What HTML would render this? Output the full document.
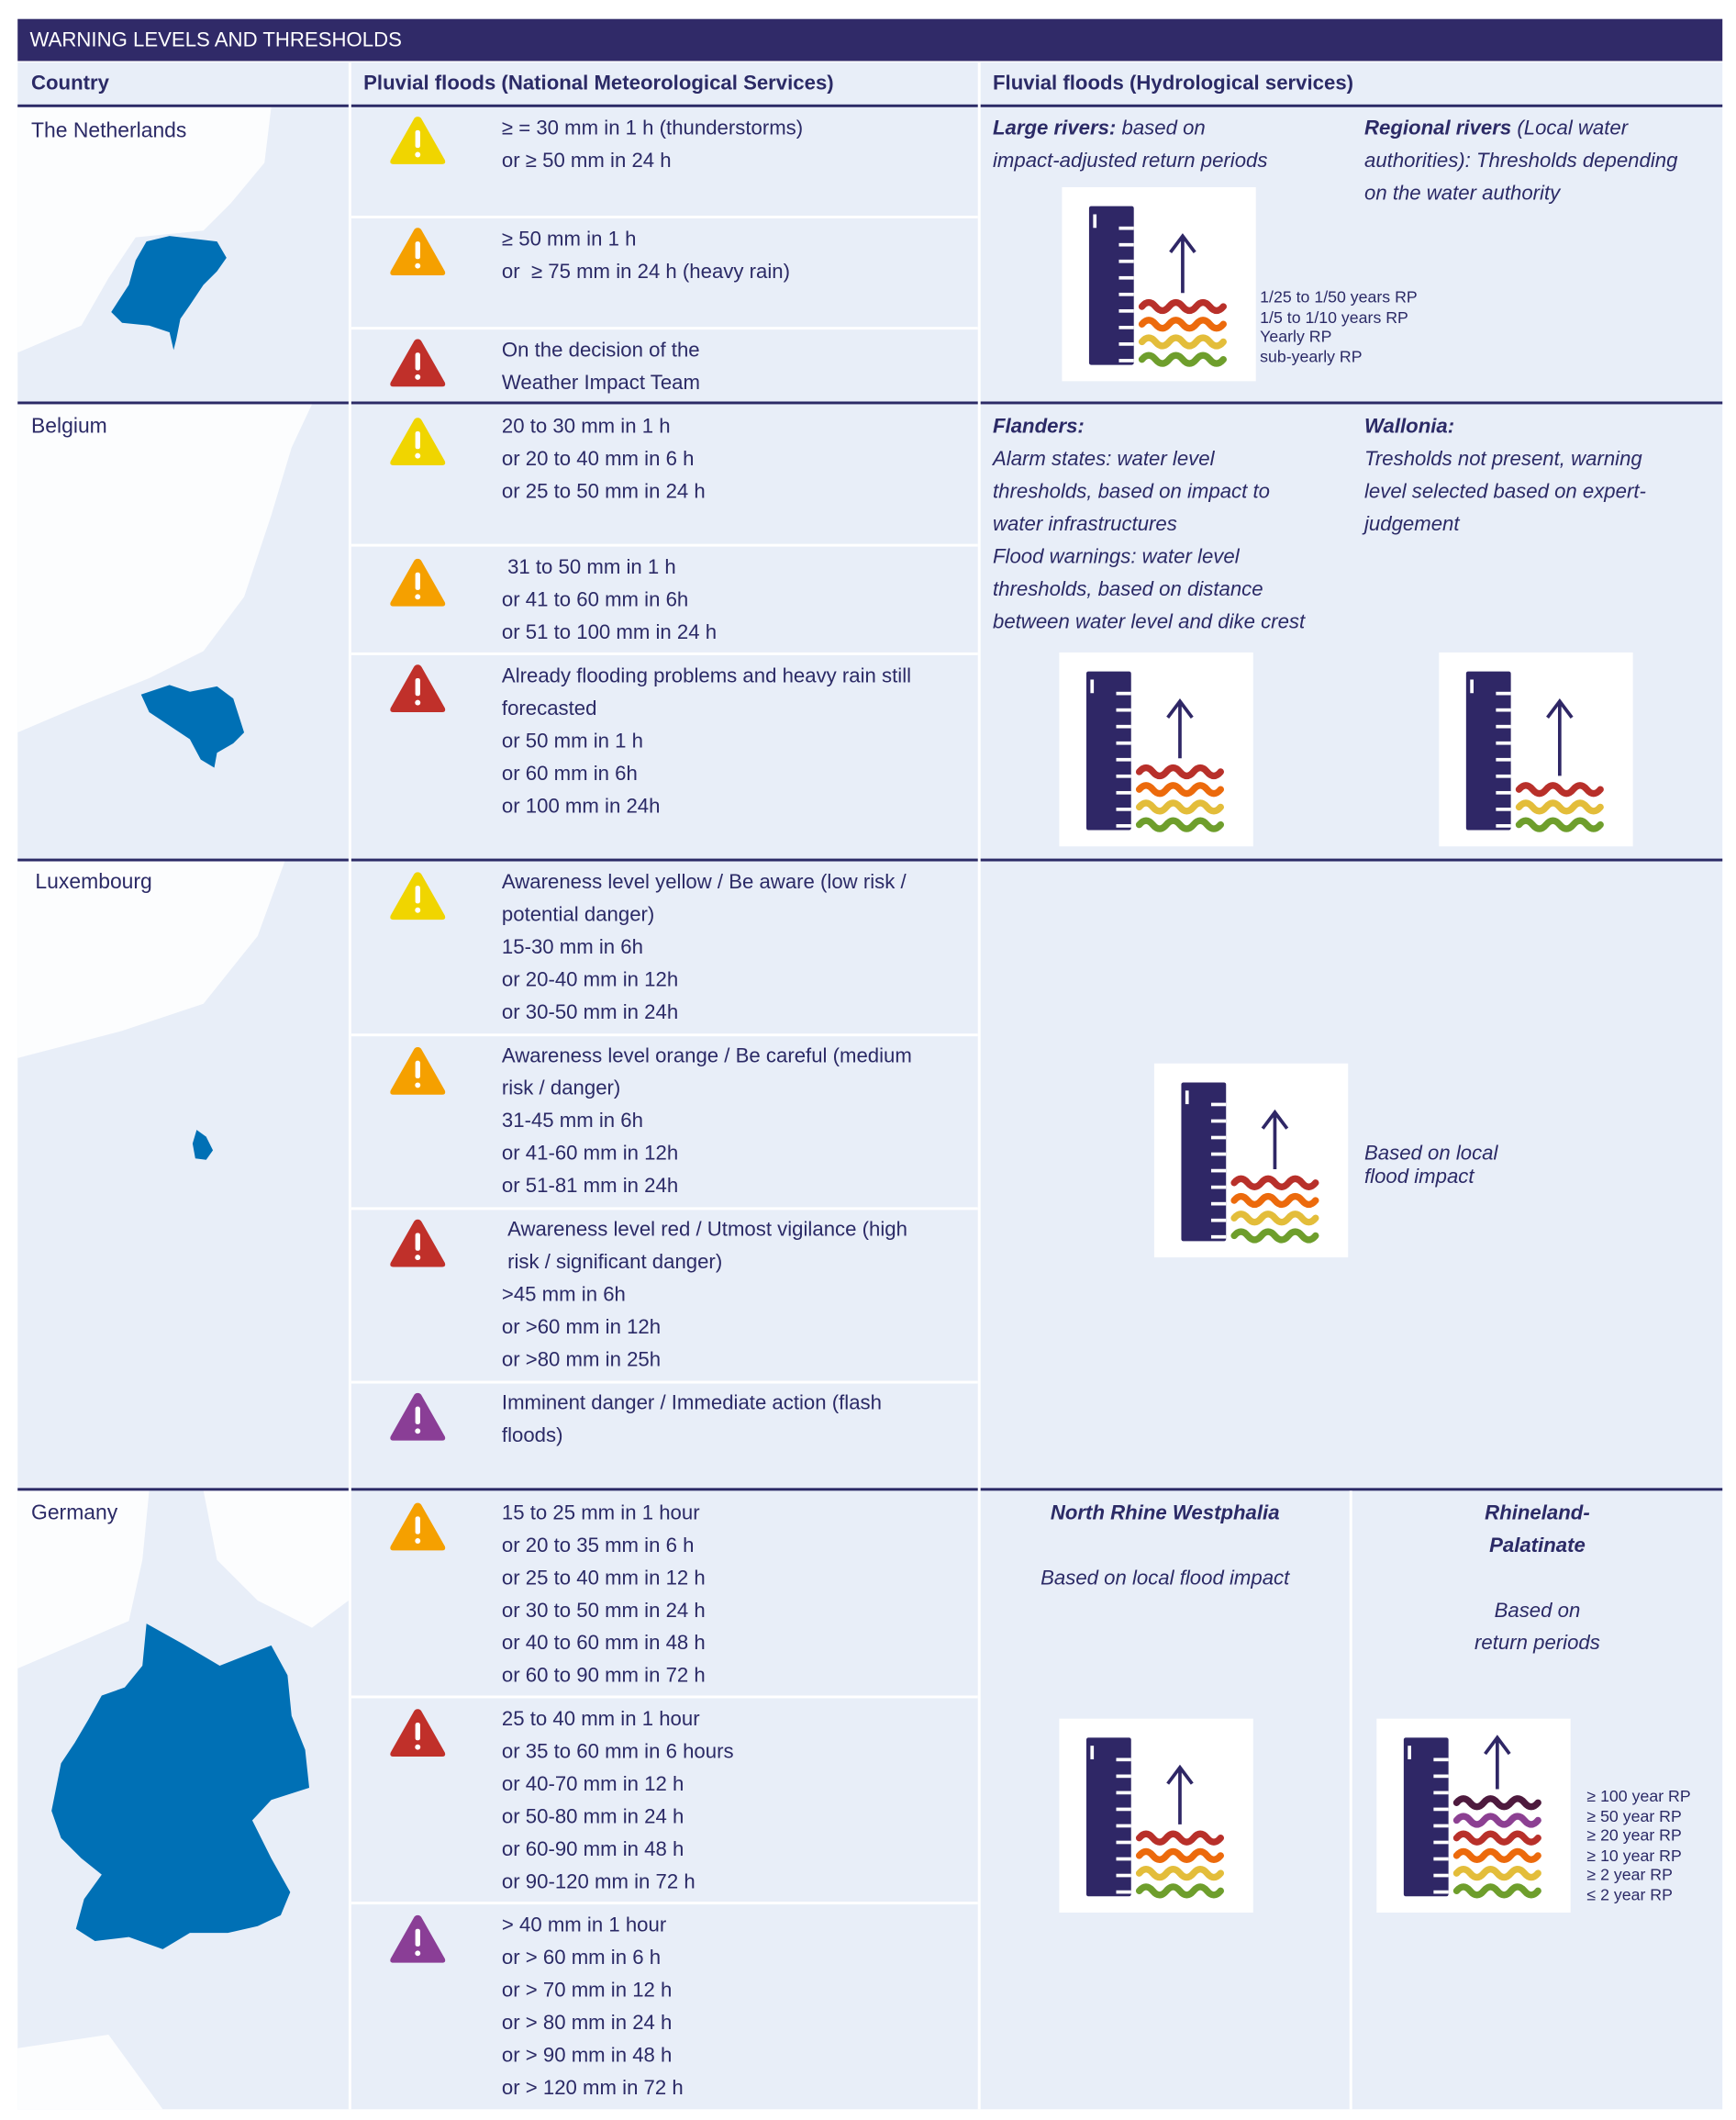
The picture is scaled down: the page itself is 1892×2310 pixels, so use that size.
<!DOCTYPE html>
<html><head><meta charset="utf-8"><style>
html,body{margin:0;padding:0;background:#fff;width:1892px;height:2310px;overflow:hidden}
#s{position:absolute;left:0;top:0;width:1280px;height:1563px;transform:scale(1.478125,1.478);transform-origin:0 0;font-family:"Liberation Sans",sans-serif;color:#2b2a66}
.a{position:absolute}
.t{position:absolute;font-size:15px;line-height:24px;white-space:nowrap}
.i{font-style:italic}
.b{font-weight:bold}
.sm{position:absolute;font-size:12px;line-height:14.6px;white-space:nowrap}
.hl{position:absolute;height:2px;background:#2b2a66;left:13px;width:1257px}
.wl{position:absolute;height:2px;background:#fff}
.vl{position:absolute;width:2px;background:#fff}
</style></head><body>
<div id="s">
<div class="a" style="left:13px;top:14px;width:1257px;height:31px;background:#302a68"></div>
<div class="t" style="left:22px;top:18px;color:#fff;font-size:15px">WARNING LEVELS AND THRESHOLDS</div>
<div class="a" style="left:13px;top:46px;width:1257px;height:1509px;background:#e8eef8"></div>
<svg class="a" style="left:0;top:0" width="1280" height="1563" id="g"></svg>
<div class="t b" style="left:23px;top:50px">Country</div>
<div class="t b" style="left:268px;top:50px">Pluvial floods (National Meteorological Services)</div>
<div class="t b" style="left:732px;top:50px">Fluvial floods (Hydrological services)</div>
<div class="hl" style="top:77px"></div>
<div class="hl" style="top:296px"></div>
<div class="hl" style="top:633px"></div>
<div class="hl" style="top:1097px"></div>
<div class="vl" style="left:257px;top:46px;height:1509px"></div>
<div class="vl" style="left:721px;top:46px;height:1509px"></div>
<div class="vl" style="left:995px;top:1099px;height:456px"></div>
<div class="wl" style="left:259px;width:462px;top:159px"></div>
<div class="wl" style="left:259px;width:462px;top:241px"></div>
<div class="wl" style="left:259px;width:462px;top:401px"></div>
<div class="wl" style="left:259px;width:462px;top:481px"></div>
<div class="wl" style="left:259px;width:462px;top:762px"></div>
<div class="wl" style="left:259px;width:462px;top:890px"></div>
<div class="wl" style="left:259px;width:462px;top:1018px"></div>
<div class="wl" style="left:259px;width:462px;top:1250px"></div>
<div class="wl" style="left:259px;width:462px;top:1402px"></div>

<div class="t" style="left:23px;top:85px;font-size:15.5px">The Netherlands</div>
<div class="t" style="left:23px;top:303px;font-size:15.5px">Belgium</div>
<div class="t" style="left:26px;top:639px;font-size:15.5px">Luxembourg</div>
<div class="t" style="left:23px;top:1104px;font-size:15.5px">Germany</div>

<div class="t" style="left:370px;top:83px">≥ = 30 mm in 1 h (thunderstorms)<br>or ≥ 50 mm in 24 h</div>
<div class="t" style="left:370px;top:165px">≥ 50 mm in 1 h<br>or &nbsp;≥ 75 mm in 24 h (heavy rain)</div>
<div class="t" style="left:370px;top:247px">On the decision of the<br>Weather Impact Team</div>
<div class="t i" style="left:732px;top:83px"><b>Large rivers:</b> based on<br>impact-adjusted return periods</div>
<div class="t i" style="left:1006px;top:83px"><b>Regional rivers</b> (Local water<br>authorities): Thresholds depending<br>on the water authority</div>
<div class="sm" style="left:929px;top:212px">1/25 to 1/50 years RP<br>1/5 to 1/10 years RP<br>Yearly RP<br>sub-yearly RP</div>

<div class="t" style="left:370px;top:303px">20 to 30 mm in 1 h<br>or 20 to 40 mm in 6 h<br>or 25 to 50 mm in 24 h</div>
<div class="t" style="left:370px;top:407px">&nbsp;31 to 50 mm in 1 h<br>or 41 to 60 mm in 6h<br>or 51 to 100 mm in 24 h</div>
<div class="t" style="left:370px;top:487px">Already flooding problems and heavy rain still<br>forecasted<br>or 50 mm in 1 h<br>or 60 mm in 6h<br>or 100 mm in 24h</div>
<div class="t i" style="left:732px;top:303px"><b>Flanders:</b><br>Alarm states: water level<br>thresholds, based on impact to<br>water infrastructures<br>Flood warnings: water level<br>thresholds, based on distance<br>between water level and dike crest</div>
<div class="t i" style="left:1006px;top:303px"><b>Wallonia:</b><br>Tresholds not present, warning<br>level selected based on expert-<br>judgement</div>

<div class="t" style="left:370px;top:639px">Awareness level yellow / Be aware (low risk /<br>potential danger)<br>15-30 mm in 6h<br>or 20-40 mm in 12h<br>or 30-50 mm in 24h</div>
<div class="t" style="left:370px;top:767px">Awareness level orange / Be careful (medium<br>risk / danger)<br>31-45 mm in 6h<br>or 41-60 mm in 12h<br>or 51-81 mm in 24h</div>
<div class="t" style="left:370px;top:895px">&nbsp;Awareness level red / Utmost vigilance (high<br>&nbsp;risk / significant danger)<br>&gt;45 mm in 6h<br>or &gt;60 mm in 12h<br>or &gt;80 mm in 25h</div>
<div class="t" style="left:370px;top:1023px">Imminent danger / Immediate action (flash<br>floods)</div>
<div class="t i" style="left:1006px;top:842px;line-height:17px">Based on local<br>flood impact</div>

<div class="t" style="left:370px;top:1104px">15 to 25 mm in 1 hour<br>or 20 to 35 mm in 6 h<br>or 25 to 40 mm in 12 h<br>or 30 to 50 mm in 24 h<br>or 40 to 60 mm in 48 h<br>or 60 to 90 mm in 72 h</div>
<div class="t" style="left:370px;top:1256px">25 to 40 mm in 1 hour<br>or 35 to 60 mm in 6 hours<br>or 40-70 mm in 12 h<br>or 50-80 mm in 24 h<br>or 60-90 mm in 48 h<br>or 90-120 mm in 72 h</div>
<div class="t" style="left:370px;top:1408px">&gt; 40 mm in 1 hour<br>or &gt; 60 mm in 6 h<br>or &gt; 70 mm in 12 h<br>or &gt; 80 mm in 24 h<br>or &gt; 90 mm in 48 h<br>or &gt; 120 mm in 72 h</div>
<div class="t i" style="left:723px;width:272px;text-align:center;top:1104px"><b>North Rhine Westphalia</b><br><br>Based on local flood impact</div>
<div class="t i" style="left:997px;width:273px;text-align:center;top:1104px"><b>Rhineland-<br>Palatinate</b><br><br>Based on<br>return periods</div>
<div class="sm" style="left:1170px;top:1317px">≥ 100 year RP<br>≥ 50 year RP<br>≥ 20 year RP<br>≥ 10 year RP<br>≥ 2 year RP<br>≤ 2 year RP</div>
</div>
<script>
const iconKinds=['y','o','r','y','o','r','y','o','r','p','o','r','p'];
const iconY=[104,186,268,326,430,508,661,790,917,1045,1126,1278,1430];
const gauges=[[783,138,4],[781,481,4],[1061,481,3],[851,784,4],[781,1267,4],[1015,1267,6]];
const g=document.getElementById('g');
const NS='http://www.w3.org/2000/svg';
function el(t,a,p){const e=document.createElementNS(NS,t);for(const k in a)e.setAttribute(k,a[k]);(p||g).appendChild(e);return e;}
// map backgrounds: sea in white
const seas=[
"13,79 200,79 195,120 170,150 150,170 100,175 80,205 60,240 13,260",
"13,298 230,298 215,330 200,380 180,440 150,480 110,500 60,520 13,540",
"13,635 210,635 190,690 150,740 90,760 13,780",
"13,1099 110,1099 105,1150 95,1195 60,1210 13,1230",
"150,1099 257,1099 257,1180 230,1200 190,1180 160,1150",
"13,1510 80,1500 120,1555 13,1555"];
seas.forEach(p=>{const e=el('polygon',{points:p,fill:'#fff',opacity:0.85});});
const countries=[
"108,178 125,174 160,178 167,190 160,200 150,210 140,225 133,235 130,250 128,258 125,245 110,240 90,238 82,230 95,210 100,192",
"104,512 125,505 140,510 160,506 172,515 180,540 172,548 160,555 158,566 148,560 140,545 125,535 110,525",
"145,833 152,838 157,848 152,855 144,854 142,843",
"108,1197 135,1212 162,1228 200,1213 212,1235 215,1265 225,1290 228,1318 200,1327 186,1342 200,1370 214,1395 207,1412 190,1420 168,1425 140,1425 120,1437 95,1428 70,1431 56,1422 62,1400 75,1382 60,1370 45,1355 38,1335 45,1300 55,1285 65,1268 75,1250 92,1244 105,1228"];
countries.forEach(p=>{const e=el('polygon',{points:p,fill:'#0070b5'});});
const col={y:'#f0d500',o:'#f5a000',r:'#c0302a',p:'#8a3e96'};
iconKinds.forEach((k,i)=>{const cx=308,cy=iconY[i];
 const e=el('path',{d:`M${cx} ${cy-18} Q${cx+2} ${cy-18} ${cx+3} ${cy-16} L${cx+20} ${cy+14} Q${cx+21} ${cy+17} ${cx+18} ${cy+17} L${cx-18} ${cy+17} Q${cx-21} ${cy+17} ${cx-20} ${cy+14} L${cx-3} ${cy-16} Q${cx-2} ${cy-18} ${cx} ${cy-18}Z`,fill:col[k]});
 
 
 el('rect',{x:cx-1.8,y:cy-8,width:3.6,height:13,rx:1.5,fill:'#fff'});
 el('circle',{cx:cx,cy:cy+10,r:2,fill:'#fff'});
});
const wc={3:['#b8302a','#e3bd3a','#6e9e2c'],4:['#b8302a','#ec6a0c','#e3bd3a','#6e9e2c'],6:['#4e1a3e','#8c4092','#b8302a','#ec6a0c','#e3bd3a','#6e9e2c']};
gauges.forEach(([x,y,n])=>{
 const gr=el('g',{});
 
 
 el('rect',{x:x,y:y,width:143,height:143,fill:'#fff'},gr);
 el('rect',{x:x+20,y:y+14,width:33,height:117,rx:1.5,fill:'#2f2766'},gr);
 el('rect',{x:x+23,y:y+20,width:2.5,height:10,fill:'#fff'},gr);
 for(let j=0;j<9;j++)el('rect',{x:x+42,y:y+29+j*12.2,width:11,height:2.5,fill:'#fff'},gr);
 const ws=wc[n];const step=13;const last=y+127;const top=last-(n-1)*step;
 ws.forEach((c,j)=>{const wy=top+j*step;let d=`M${x+59} ${wy}`;for(let q=0;q<3;q++){const sx=x+59+q*20;d+=` Q${sx+5} ${wy-6} ${sx+10} ${wy} T${sx+20} ${wy}`;}
  el('path',{d:d,stroke:c,'stroke-width':5,fill:'none','stroke-linecap':'round'},gr);});
 const at=n==6?y+14:y+36, ab=top-10;
 el('path',{d:`M${x+89} ${ab} L${x+89} ${at} M${x+80} ${at+12} L${x+89} ${at} L${x+98} ${at+12}`,stroke:'#2f2766','stroke-width':2.5,fill:'none'},gr);
});
</script>
</body></html>
